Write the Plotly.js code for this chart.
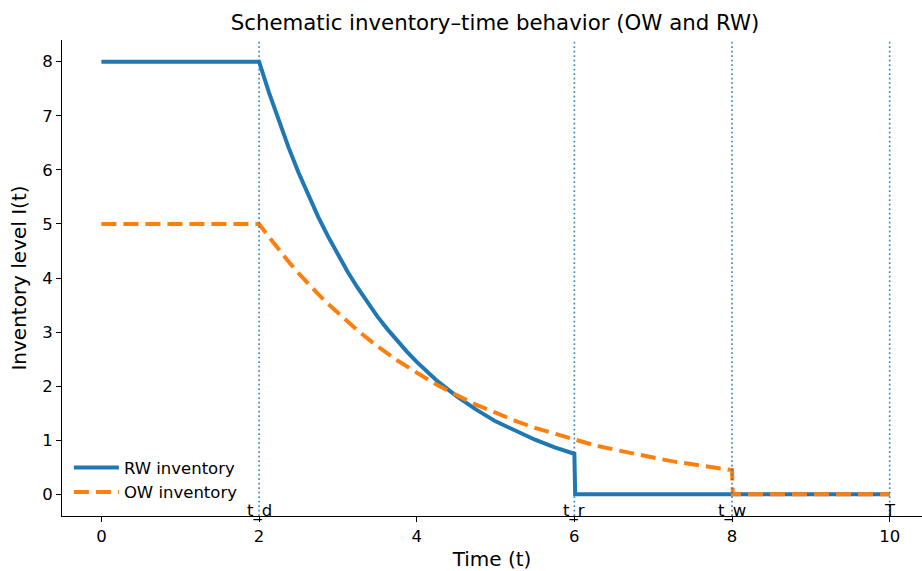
<!DOCTYPE html>
<html>
<head>
<meta charset="utf-8">
<script src="https://cdn.plot.ly/plotly-3.0.1.min.js"></script>
<style>html,body{margin:0;padding:0;background:#fff;}#chart{width:922px;height:571px;}</style>
</head>
<body>
<div id="chart"></div>
<script>
// RW inventory
const rwTime = [0, 2, 2.125, 2.25, 2.375, 2.5, 2.625, 2.75, 2.875, 3, 3.125, 3.25, 3.375, 3.5, 3.625, 3.75, 3.875, 4, 4.25, 4.5, 4.75, 5, 5.25, 5.5, 5.75, 6, 6.01, 10];
const rwLevel = [8, 8, 7.43, 6.90, 6.41, 5.95, 5.53, 5.13, 4.77, 4.43, 4.11, 3.82, 3.54, 3.29, 3.06, 2.84, 2.64, 2.45, 2.11, 1.82, 1.57, 1.35, 1.17, 1.01, 0.87, 0.75, 0, 0];
// OW inventory
const owTime = [0, 2, 2.125, 2.25, 2.375, 2.5, 2.625, 2.75, 2.875, 3, 3.25, 3.5, 3.75, 4, 4.25, 4.5, 4.75, 5, 5.25, 5.5, 5.75, 6, 6.25, 6.5, 6.75, 7, 7.25, 7.5, 7.75, 8, 8.01, 10];
const owLevel = [5, 5, 4.76, 4.52, 4.30, 4.09, 3.89, 3.70, 3.52, 3.35, 3.03, 2.74, 2.48, 2.25, 2.03, 1.84, 1.66, 1.51, 1.36, 1.23, 1.12, 1.01, 0.91, 0.83, 0.75, 0.68, 0.61, 0.55, 0.50, 0.45, 0, 0];
// Event markers
const markerTimes = [2, 6, 8, 10];
const markerLabels = ["t_d", "t_r", "t_w", "T"];
const markerLabelY = -0.3;
const xTicks = [0, 2, 4, 6, 8, 10];
const yTicks = [0, 1, 2, 3, 4, 5, 6, 7, 8];

const traces = [
  {x: rwTime, y: rwLevel, mode: 'lines', name: 'RW inventory',
   line: {color: '#1f77b4', width: 4}},
  {x: owTime, y: owLevel, mode: 'lines', name: 'OW inventory',
   line: {color: '#ff7f0e', width: 4, dash: '15px,7px'}}
];

const shapes = markerTimes.map(t => ({
  type: 'line', xref: 'x', yref: 'paper', x0: t, x1: t, y0: 0, y1: 1,
  line: {color: 'rgba(31,119,180,0.9)', width: 1.6, dash: '1.7px,2.8px'}
}));

const annotations = markerTimes.map((t, i) => ({
  x: t, y: markerLabelY, xref: 'x', yref: 'y', text: markerLabels[i],
  showarrow: false, font: {family: 'DejaVu Sans', size: 16.5, color: '#000'},
  xanchor: 'center', yanchor: 'middle'
}));

const layout = {
  width: 922, height: 571,
  margin: {l: 62, r: 0, t: 40, b: 55},
  paper_bgcolor: '#fff', plot_bgcolor: '#fff',
  font: {family: 'DejaVu Sans', size: 16.5, color: '#000'},
  title: {text: 'Schematic inventory–time behavior (OW and RW)',
          font: {family: 'DejaVu Sans', size: 21.3, color: '#000'},
          x: 0.5035, xref: 'paper', xanchor: 'center', y: 0.96, yref: 'container', yanchor: 'middle'},
  xaxis: {range: [-0.5, 10.41], tickvals: xTicks, ticktext: xTicks.map(String),
          showgrid: false, zeroline: false, showline: true, linecolor: '#000', linewidth: 1,
          ticks: 'outside', ticklen: 5, tickcolor: '#000',
          title: {text: 'Time (t)', font: {size: 20}, standoff: 9},
          tickfont: {size: 16.5}},
  yaxis: {range: [-0.4, 8.4], tickvals: yTicks, ticktext: yTicks.map(String),
          showgrid: false, zeroline: false, showline: true, linecolor: '#000', linewidth: 1,
          ticks: 'outside', ticklen: 5, tickcolor: '#000',
          title: {text: 'Inventory level I(t)', font: {size: 20}, standoff: 10},
          tickfont: {size: 16.5}},
  legend: {x: 0.008, y: 0.014, xanchor: 'left', yanchor: 'bottom', itemwidth: 45,
           bgcolor: 'rgba(255,255,255,0)', font: {size: 16.5}, tracegroupgap: 0},
  showlegend: true,
  shapes: shapes,
  annotations: annotations
};

Plotly.newPlot('chart', traces, layout, {staticPlot: true, displayModeBar: false});
</script>
</body>
</html>
